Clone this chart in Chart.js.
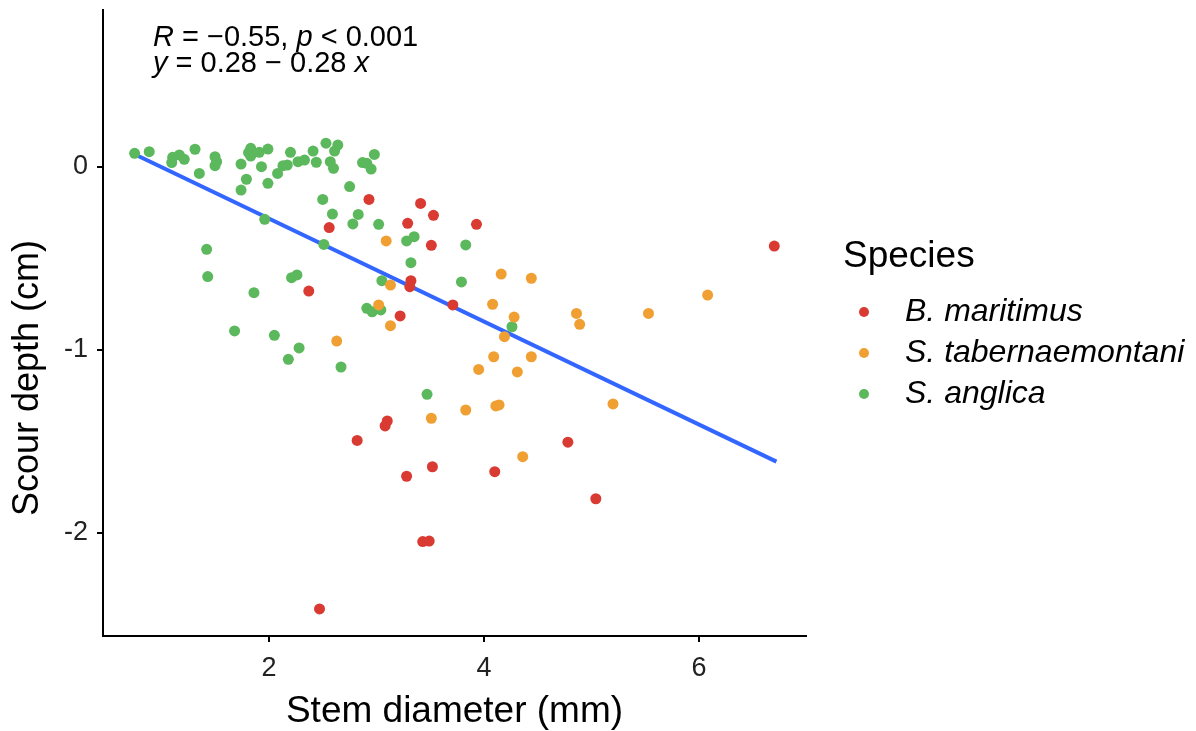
<!DOCTYPE html>
<html>
<head>
<meta charset="utf-8">
<script src="https://cdn.jsdelivr.net/npm/chart.js@4/dist/chart.umd.min.js"></script>
<style>
  html, body { margin: 0; background: #fff; }
  #wrap { width: 1196px; height: 731px; }
</style>
</head>
<body>
<div id="wrap"><canvas id="c" width="1196" height="731"></canvas></div>
<script>
// Scour depth vs stem diameter, three species + linear fit
const speciesNames = ['B. maritimus', 'S. tabernaemontani', 'S. anglica'];
const speciesColors = ['#d93b33', '#f0a033', '#5cb85c'];

const bmX = [2.93, 2.56, 3.41, 3.53, 3.29, 3.93, 3.51, 2.37, 3.32, 3.31, 3.71, 3.22, 6.70, 3.10, 3.08, 2.82, 4.78, 3.52, 3.28, 4.10, 5.04, 3.43, 3.49, 2.47];
const bmY = [-0.177, -0.331, -0.199, -0.264, -0.308, -0.313, -0.428, -0.678, -0.621, -0.654, -0.754, -0.814, -0.432, -1.388, -1.415, -1.494, -1.504, -1.638, -1.690, -1.665, -1.813, -2.047, -2.044, -2.415];

const stX = [3.09, 3.13, 3.02, 3.13, 2.63, 4.16, 4.44, 4.08, 4.28, 4.19, 4.09, 4.44, 3.95, 4.31, 4.86, 4.89, 5.53, 6.08, 3.51, 3.83, 4.11, 4.14, 5.20, 4.36];
const stY = [-0.404, -0.645, -0.754, -0.867, -0.951, -0.585, -0.608, -0.750, -0.820, -0.927, -1.037, -1.037, -1.106, -1.120, -0.800, -0.860, -0.800, -0.700, -1.373, -1.328, -1.306, -1.300, -1.295, -1.583];

const saX = [0.75, 0.886, 1.104, 1.166, 1.095, 1.212, 1.312, 1.352, 1.498, 1.513, 1.498, 1.74, 1.79, 1.74, 1.81, 1.83, 1.83, 1.91, 1.93, 1.99, 1.99, 2.08, 2.13, 2.17, 2.20, 2.27, 2.33, 2.41, 2.44, 2.53, 2.64, 2.61, 2.57, 2.60, 2.75, 2.50, 2.59, 2.83, 2.78, 3.02, 2.87, 2.91, 2.95, 2.98, 1.96, 2.51, 1.42, 1.43, 2.21, 2.26, 1.86, 3.05, 2.91, 2.96, 3.04, 1.68, 2.05, 2.28, 2.18, 2.67, 3.28, 3.35, 3.83, 3.32, 3.79, 4.26, 3.47];
const saY = [0.075, 0.084, 0.053, 0.066, 0.024, 0.042, 0.097, -0.035, 0.056, 0.029, 0.007, 0.016, -0.067, -0.126, 0.078, 0.102, 0.060, 0.080, 0.002, 0.098, -0.089, -0.035, 0.007, 0.011, 0.080, 0.029, 0.038, 0.087, 0.026, 0.130, 0.120, 0.087, 0.029, -0.007, -0.107, -0.177, -0.257, -0.259, -0.311, -0.313, 0.024, 0.020, -0.011, 0.069, -0.286, -0.423, -0.450, -0.599, -0.605, -0.590, -0.687, -0.621, -0.772, -0.791, -0.781, -0.896, -0.920, -0.989, -1.051, -1.093, -0.404, -0.381, -0.426, -0.523, -0.628, -0.873, -1.242];

// fitted line end points (y = 0.28 - 0.28 x over data range)
const fitX = [0.75, 6.72];
const fitY = [0.07, -1.61];

const xTicks = [2, 4, 6];
const yTicks = [0, -1, -2];
const xRange = [0.456, 6.995];
const yRange = [-2.563, 0.858];

const FONT = '"Liberation Sans", Arial, sans-serif';
const pts = (xs, ys) => xs.map((x, i) => ({ x, y: ys[i] }));

const seriesX = [bmX, stX, saX];
const seriesY = [bmY, stY, saY];

const datasets = speciesNames.map((name, i) => ({
  label: name,
  data: pts(seriesX[i], seriesY[i]),
  backgroundColor: speciesColors[i],
  borderWidth: 0,
  pointRadius: 5.5,
  pointHoverRadius: 5.5,
  order: 1
}));
datasets.push({
  type: 'line',
  label: 'fit',
  data: pts(fitX, fitY),
  borderColor: '#3366ff',
  borderWidth: 4,
  pointRadius: 0,
  fill: false,
  order: 5
});

// stat_cor label, y title and right-hand legend, drawn on the canvas
const textPlugin = {
  id: 'texts',
  afterDraw(chart) {
    const ctx = chart.ctx;
    const a = chart.chartArea;
    ctx.save();
    ctx.fillStyle = '#000';
    ctx.textBaseline = 'middle';

    function runs(parts, x, y, size) {
      for (const [txt, it] of parts) {
        ctx.font = (it ? 'italic ' : '') + size + 'px ' + FONT;
        ctx.fillText(txt, x, y);
        x += ctx.measureText(txt).width;
      }
    }
    runs([['R', true], [' = \u2212', false], ['0.55, ', false], ['p', true], [' < 0.001', false]], a.left + 50, a.top + 28, 29);
    runs([['y', true], [' = 0.28 \u2212 0.28 ', false], ['x', true]], a.left + 50, a.top + 54, 29);

    // y axis title (sits a little below the panel centre in the original)
    ctx.save();
    ctx.translate(28, 378);
    ctx.rotate(-Math.PI / 2);
    ctx.textAlign = 'center';
    ctx.font = '36px ' + FONT;
    ctx.fillText('Scour depth (cm)', 0, 0);
    ctx.restore();

    ctx.font = '37px ' + FONT;
    ctx.fillText('Species', 843, 257);
    speciesNames.forEach((name, i) => {
      const y = 312 + i * 41;
      ctx.beginPath();
      ctx.fillStyle = speciesColors[i];
      ctx.arc(864, y, 5, 0, Math.PI * 2);
      ctx.fill();
      ctx.fillStyle = '#000';
      ctx.font = 'italic 32px ' + FONT;
      ctx.fillText(name, 905, y);
    });
    ctx.restore();
  }
};

new Chart(document.getElementById('c'), {
  type: 'scatter',
  data: { datasets },
  options: {
    responsive: false,
    animation: false,
    layout: { padding: { top: 10, right: 390, left: 0, bottom: -3 } },
    plugins: { legend: { display: false }, tooltip: { enabled: false } },
    scales: {
      x: {
        type: 'linear',
        min: xRange[0], max: xRange[1],
        afterBuildTicks: s => { s.ticks = xTicks.map(v => ({ value: v })); },
        afterFit: s => { s.height = 98; s.paddingLeft = 0; s.paddingRight = 0; },
        grid: { drawOnChartArea: false, color: '#000', tickColor: '#000', tickLength: 6, lineWidth: 2 },
        border: { color: '#000', width: 2 },
        ticks: { color: '#222', font: { family: FONT, size: 27 }, padding: 10, maxRotation: 0 },
        title: { display: true, text: 'Stem diameter (mm)', color: '#000', font: { family: FONT, size: 37 }, padding: { top: 0, bottom: 0 } }
      },
      y: {
        type: 'linear',
        min: yRange[0], max: yRange[1],
        afterBuildTicks: s => { s.ticks = yTicks.map(v => ({ value: v })); },
        afterFit: s => { s.width = 103; s.paddingTop = 0; s.paddingBottom = 0; },
        grid: { drawOnChartArea: false, color: '#000', tickColor: '#000', tickLength: 6, lineWidth: 2 },
        border: { color: '#000', width: 2 },
        ticks: { color: '#222', font: { family: FONT, size: 27 }, padding: 9 },
        title: { display: false }
      }
    }
  },
  plugins: [textPlugin]
});
</script>
</body>
</html>
